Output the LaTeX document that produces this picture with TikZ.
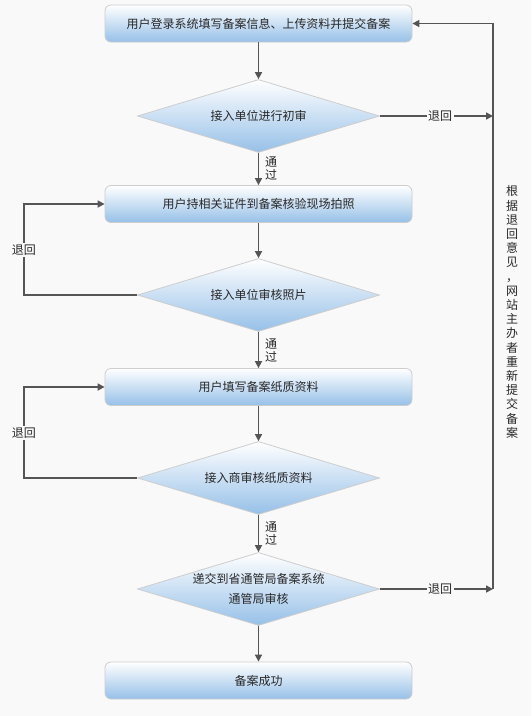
\documentclass[tikz,border=0pt]{standalone}
\usepackage{fontspec}
\setmainfont{Noto Sans CJK SC}
\usetikzlibrary{shapes.geometric,arrows.meta}
\definecolor{bg}{RGB}{249,249,249}
\definecolor{boxblue}{RGB}{150,192,232}
\definecolor{boxmid}{RGB}{226,238,250}
\definecolor{edgegray}{RGB}{205,205,205}
\definecolor{linegray}{RGB}{85,85,85}
\definecolor{txt}{RGB}{40,40,40}
\begin{document}
\begin{tikzpicture}[x=1pt,y=-1pt,
  stepbox/.style={rectangle, rounded corners=6pt, draw=edgegray, line width=0.8pt,
    minimum width=307pt, minimum height=37pt, inner sep=0pt,
    top color=white, middle color=boxmid, bottom color=boxblue,
    text=txt, font=\fontsize{12}{14}\selectfont},
  decbox/.style={diamond, aspect=3.3, draw=edgegray, line width=0.8pt,
    minimum width=242pt, minimum height=73pt, inner sep=0pt,
    top color=white, middle color=boxmid, bottom color=boxblue,
    text=txt, font=\fontsize{12}{20}\selectfont, align=center},
  conn/.style={draw=linegray, line width=1.6pt, -{Triangle[length=7pt,width=7pt]}},
  lbl/.style={fill=bg, inner sep=1.5pt, text=txt, font=\fontsize{12}{14}\selectfont},
  vlbl/.style={inner sep=0pt, text=txt, align=center, font=\fontsize{12}{13}\selectfont}
]
\fill[bg] (0,0) rectangle (531,716);
\useasboundingbox (0,0) rectangle (531,716);

\node[stepbox] (b1) at (258.5,23.5) {用户登录系统填写备案信息、上传资料并提交备案};
\node[decbox] (d1) at (258.5,116) {接入单位进行初审};
\node[stepbox] (b2) at (258.5,204) {用户持相关证件到备案核验现场拍照};
\node[decbox] (d2) at (258.5,295) {接入单位审核照片};
\node[stepbox] (b3) at (258.5,387) {用户填写备案纸质资料};
\node[decbox] (d3) at (258.5,478) {接入商审核纸质资料};
\node[decbox] (d4) at (258.5,589) {递交到省通管局备案系统\\通管局审核};
\node[stepbox] (b5) at (258.5,680.5) {备案成功};

% main flow
\draw[conn] (b1.south) -- (d1.north);
\draw[conn] (d1.south) -- (b2.north);
\draw[conn] (b2.south) -- (d2.north);
\draw[conn] (d2.south) -- (b3.north);
\draw[conn] (b3.south) -- (d3.north);
\draw[conn] (d3.south) -- (d4.north);
\draw[conn] (d4.south) -- (b5.north);

\node[vlbl, anchor=west] (p1) at (265,168) {通\\过};
\node[vlbl, anchor=west] (p2) at (265,350) {通\\过};
\node[vlbl, anchor=west] (p3) at (265,533) {通\\过};

% left loops
\coordinate (l2a) at (24,295);
\coordinate (l2b) at (24,204);
\draw[conn] (d2.west) -- (l2a) -- (l2b) -- (b2.west);
\node[lbl] (t2) at (24,250) {退回};

\coordinate (l3a) at (24,478);
\coordinate (l3b) at (24,387);
\draw[conn] (d3.west) -- (l3a) -- (l3b) -- (b3.west);
\node[lbl] (t3) at (24,433) {退回};

% right return
\coordinate (r1) at (493,116);
\coordinate (r4) at (493,589);
\coordinate (rt) at (493,23.5);
\draw[conn] (d1.east) -- (r1);
\node[lbl] (t1) at (440,116) {退回};
\draw[conn] (d4.east) -- (r4);
\node[lbl] (t4) at (440,589) {退回};
\draw[conn] (r4) -- (rt) -- (b1.east);

\node[vlbl, font=\fontsize{12}{14.2}\selectfont] (side) at (512,312)
  {根\\据\\退\\回\\意\\见\\，\\网\\站\\主\\办\\者\\重\\新\\提\\交\\备\\案};
\end{tikzpicture}
\end{document}
